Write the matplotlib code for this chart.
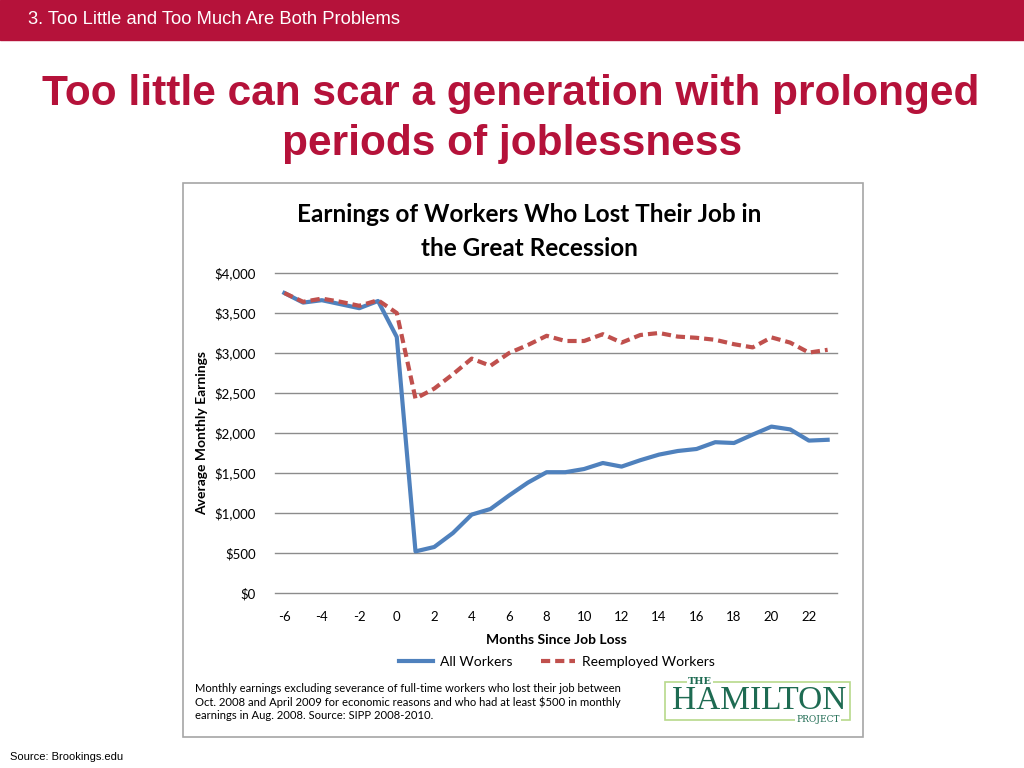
import matplotlib
matplotlib.use('Agg')
import matplotlib.pyplot as plt
from matplotlib.patches import Rectangle
from matplotlib.ticker import FuncFormatter

# months since job loss, -6 .. 23
months = list(range(-6, 24))
all_workers = [3750, 3630, 3660, 3610, 3560, 3650, 3200, 520, 575, 750,
               980, 1050, 1220, 1380, 1510, 1510, 1550, 1625, 1580, 1660,
               1730, 1775, 1800, 1885, 1875, 1980, 2080, 2045, 1905, 1915]
reemployed = [3750, 3640, 3680, 3640, 3590, 3660, 3500, 2430, 2555, 2735,
              2930, 2840, 3000, 3100, 3215, 3150, 3150, 3235, 3130, 3225,
              3250, 3205, 3190, 3165, 3110, 3070, 3195, 3130, 3005, 3040]
xticks = list(range(-6, 23, 2))
yticks = [0, 500, 1000, 1500, 2000, 2500, 3000, 3500, 4000]

CRIMSON = '#B5123A'
BLUE = '#4F81BD'
RED = '#C0504D'
W, H = 1024, 768
plt.rcParams['axes.unicode_minus'] = False

fig = plt.figure(figsize=(10.24, 7.68), dpi=100)
fig.patch.set_facecolor('white')

def fx(px): return px / W
def fy(py): return 1 - py / H

# header band
fig.patches.append(Rectangle((0, fy(40)), 1, 40 / H, transform=fig.transFigure,
                             color=CRIMSON, zorder=0))
fig.text(fx(28), fy(20), '3. Too Little and Too Much Are Both Problems', color='white',
         fontsize=13.2, family='Liberation Sans', va='center', ha='left')

# slide title
fig.text(fx(511), fy(94), 'Too little can scar a generation with prolonged', color=CRIMSON,
         fontsize=30.5, fontweight='bold', family='Liberation Sans', ha='center', va='center')
fig.text(fx(512), fy(144), 'periods of joblessness', color=CRIMSON,
         fontsize=30.5, fontweight='bold', family='Liberation Sans', ha='center', va='center')

# chart frame
fig.patches.append(Rectangle((fx(183), fy(737)), 680 / W, 554 / H, transform=fig.transFigure,
                             facecolor='white', edgecolor='#A6A6A6', lw=1.2, zorder=0))
fig.text(fx(529), fy(215), 'Earnings of Workers Who Lost Their Job in', fontsize=17.5,
         fontweight='bold', family='Lato', ha='center', va='center')
fig.text(fx(529), fy(248), 'the Great Recession', fontsize=17.5,
         fontweight='bold', family='Lato', ha='center', va='center')

ax = fig.add_axes([fx(275), fy(593), (837 - 275) / W, (593 - 273) / H])
ax.set_zorder(2)
ax.patch.set_alpha(0)
ax.plot(months, all_workers, color=BLUE, lw=3, label='All Workers', solid_joinstyle='round')
ax.plot(months, reemployed, color=RED, lw=3, ls=(0, (2.2, 1.2)), label='Reemployed Workers')
ax.set_xlim(-6.5, 23.5)
ax.set_ylim(0, 4000)
ax.set_yticks(yticks)
ax.set_xticks(xticks)
ax.yaxis.set_major_formatter(FuncFormatter(lambda v, p: f'${v:,.0f}'))
ax.grid(axis='y', color='#8C8C8C', lw=1)
ax.set_axisbelow(True)
for gl in ax.get_ygridlines():
    gl.set_clip_on(False)
for s in ax.spines.values():
    s.set_visible(False)
ax.tick_params(length=0, labelsize=9.5)
ax.tick_params(axis='y', pad=14)
ax.tick_params(axis='x', pad=13)
for lab in ax.get_xticklabels() + ax.get_yticklabels():
    lab.set_family('Lato')
ax.set_xlabel('Months Since Job Loss', fontsize=10, fontweight='bold', family='Lato', labelpad=8)
ax.set_ylabel('Average Monthly Earnings', fontsize=10, fontweight='bold', family='Lato', labelpad=4)

leg = fig.legend(loc='center', bbox_to_anchor=(fx(557), fy(662)), ncol=2, frameon=False,
                 prop={'family': 'Lato', 'size': 10}, handlelength=2.5, columnspacing=2.0,
                 handletextpad=0.5)

# footnote
fig.text(fx(195), fy(702), 'Monthly earnings excluding severance of full-time workers who lost their job between\n'
         'Oct. 2008 and April 2009 for economic reasons and who had at least $500 in monthly\n'
         'earnings in Aug. 2008. Source: SIPP 2008-2010.', fontsize=8.1, family='Lato',
         ha='left', va='center', linespacing=1.2)

# Hamilton Project logo
LG = '#1E6B52'
fig.patches.append(Rectangle((fx(665), fy(720)), 185 / W, 38 / H, transform=fig.transFigure,
                             facecolor='white', edgecolor='#B7D98B', lw=1.2, zorder=1))
fig.text(fx(700), fy(682), 'THE', fontsize=7, color=LG, family='DejaVu Serif', fontweight='bold',
         ha='center', va='center', zorder=3,
         bbox=dict(facecolor='white', edgecolor='none', pad=1))
fig.text(fx(759), fy(701), 'HAMILTON', fontsize=24, color=LG, family='Liberation Serif',
         ha='center', va='center', zorder=3)
fig.text(fx(818), fy(720), 'PROJECT', fontsize=6.5, color=LG, family='DejaVu Serif',
         ha='center', va='center', zorder=3,
         bbox=dict(facecolor='white', edgecolor='none', pad=1))

fig.text(fx(10), fy(757), 'Source: Brookings.edu', fontsize=8, family='Liberation Sans',
         ha='left', va='center')

fig.savefig('out.png', dpi=100)
